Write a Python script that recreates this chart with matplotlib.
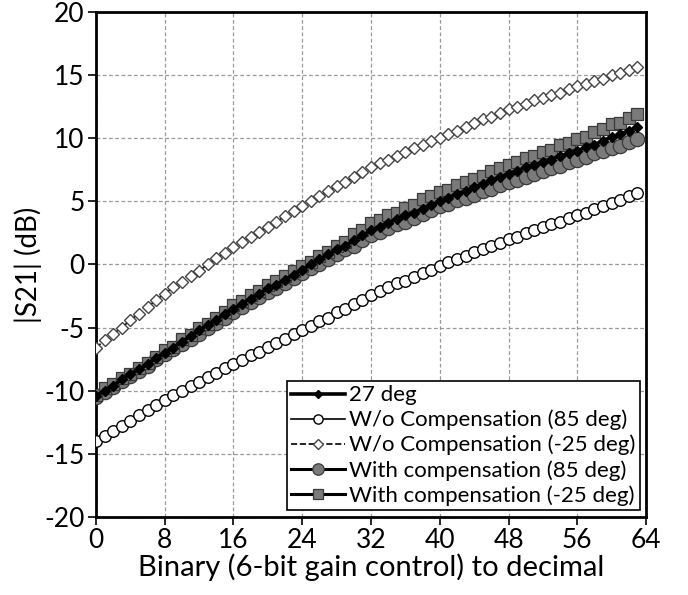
import numpy as np
import matplotlib.pyplot as plt

# gain code 0..63 (6-bit word read as decimal)
code = np.arange(64)

s21_27deg = [
    -10.4, -10.0, -9.6, -9.1, -8.7, -8.3, -7.9, -7.4, -7.0, -6.6, -6.1, -5.7, -5.2, -4.8, -4.4, -3.9,
    -3.5, -3.1, -2.7, -2.3, -1.9, -1.6, -1.2, -0.8, -0.4, 0.0, 0.4, 0.8, 1.2, 1.5, 1.9, 2.3,
    2.7, 3.0, 3.3, 3.6, 3.9, 4.1, 4.4, 4.7, 5.0, 5.3, 5.6, 5.8, 6.1, 6.4, 6.7, 6.9,
    7.2, 7.4, 7.7, 7.9, 8.1, 8.3, 8.6, 8.8, 9.0, 9.3, 9.5, 9.8, 10.1, 10.3, 10.6, 10.9,
]
s21_nocomp_85 = [
    -14.0, -13.6, -13.2, -12.8, -12.4, -11.9, -11.5, -11.1, -10.7, -10.3, -10.0, -9.6, -9.3, -8.9, -8.6, -8.2,
    -7.9, -7.6, -7.2, -6.9, -6.5, -6.2, -5.9, -5.5, -5.2, -4.9, -4.5, -4.2, -3.8, -3.5, -3.1, -2.8,
    -2.4, -2.1, -1.8, -1.5, -1.3, -1.0, -0.7, -0.4, -0.1, 0.2, 0.4, 0.7, 1.0, 1.2, 1.5, 1.7,
    2.0, 2.2, 2.5, 2.7, 3.0, 3.2, 3.4, 3.7, 3.9, 4.1, 4.4, 4.6, 4.9, 5.1, 5.4, 5.65,
]
s21_nocomp_m25 = [
    -6.6, -6.0, -5.5, -5.0, -4.4, -3.9, -3.4, -2.8, -2.3, -1.8, -1.4, -0.9, -0.5, 0.0, 0.5, 0.9,
    1.4, 1.8, 2.2, 2.6, 3.0, 3.4, 3.8, 4.2, 4.6, 5.0, 5.4, 5.8, 6.2, 6.5, 6.9, 7.3,
    7.7, 8.0, 8.3, 8.6, 8.9, 9.2, 9.5, 9.8, 10.05, 10.3, 10.6, 10.9, 11.2, 11.5, 11.7, 12.0,
    12.3, 12.5, 12.7, 13.0, 13.2, 13.4, 13.6, 13.9, 14.1, 14.3, 14.5, 14.7, 15.0, 15.2, 15.4, 15.65,
]
s21_comp_85 = [
    -10.5, -10.1, -9.7, -9.2, -8.8, -8.4, -8.0, -7.5, -7.1, -6.7, -6.3, -5.9, -5.5, -5.0, -4.6, -4.2,
    -3.8, -3.4, -3.0, -2.6, -2.2, -1.9, -1.5, -1.1, -0.7, -0.3, 0.0, 0.4, 0.8, 1.2, 1.5, 1.9,
    2.3, 2.6, 2.9, 3.2, 3.4, 3.7, 4.0, 4.3, 4.6, 4.8, 5.1, 5.3, 5.5, 5.8, 6.0, 6.3,
    6.5, 6.7, 6.9, 7.2, 7.4, 7.6, 7.8, 8.1, 8.3, 8.5, 8.8, 9.0, 9.2, 9.4, 9.7, 9.9,
]
s21_comp_m25 = [
    -10.3, -9.8, -9.5, -9.0, -8.7, -8.2, -7.8, -7.3, -6.8, -6.5, -5.9, -5.6, -5.0, -4.7, -4.2, -3.8,
    -3.2, -2.9, -2.4, -2.1, -1.6, -1.3, -0.9, -0.5, -0.1, 0.2, 0.7, 1.0, 1.5, 1.8, 2.4, 2.7,
    3.3, 3.5, 3.9, 4.1, 4.5, 4.7, 5.2, 5.4, 5.7, 5.9, 6.3, 6.5, 6.8, 7.0, 7.4, 7.6,
    7.9, 8.1, 8.4, 8.6, 8.9, 9.1, 9.5, 9.6, 9.9, 10.1, 10.5, 10.7, 11.1, 11.2, 11.6, 11.9,
]

plt.rcParams['font.family'] = ['Lato', 'DejaVu Sans']
plt.rcParams['axes.unicode_minus'] = False

fig = plt.figure(figsize=(6.88, 5.95), dpi=100)
ax = fig.add_axes([0.1395, 0.131, 0.7995, 0.849])

GRAY = '#7a7a7a'

ax.plot(code, s21_nocomp_85, '-', color='black', lw=1.2, marker='o', ms=8.3,
        mfc='white', mec='black', mew=1.0, zorder=3, label='W/o Compensation (85 deg)')
ax.plot(code, s21_nocomp_m25, '--', color='black', lw=1.2, marker='D', ms=6.2,
        mfc='white', mec='#444444', mew=1.0, zorder=3, label='W/o Compensation (-25 deg)')
ax.plot(code, s21_comp_85, '-', color='black', lw=2.2, marker='o', ms=10.3,
        mfc=GRAY, mec='#3a3a3a', mew=0.9, zorder=4, label='With compensation (85 deg)')
ax.plot(code, s21_comp_m25, '-', color='black', lw=2.2, marker='s', ms=8.2,
        mfc=GRAY, mec='#3a3a3a', mew=0.9, zorder=5, label='With compensation (-25 deg)')
ax.plot(code, s21_27deg, '-', color='black', lw=2.6, marker='D', ms=5.0,
        mfc='black', mec='black', zorder=6, label='27 deg')

ax.set_xlim(0, 64)
ax.set_ylim(-20, 20)
ax.set_xticks(np.arange(0, 65, 8))
ax.set_yticks(np.arange(-20, 21, 5))
ax.tick_params(labelsize=19, direction='out', length=6, width=1.2, pad=2)
ax.grid(True, color='#999999', linestyle='--', linewidth=0.9, dashes=(3, 2))
ax.set_axisbelow(True)
for sp in ax.spines.values():
    sp.set_linewidth(2.0)

ax.set_xlabel('Binary (6-bit gain control) to decimal', fontsize=21, labelpad=0)
ax.set_ylabel('|S21| (dB)', fontsize=20, labelpad=2)

# legend order: 27 deg first
handles, labels = ax.get_legend_handles_labels()
order = [4, 0, 1, 2, 3]
leg = ax.legend([handles[i] for i in order], [labels[i] for i in order],
                loc='lower right', bbox_to_anchor=(0.989, 0.014), fontsize=16,
                frameon=True, fancybox=False, framealpha=1, edgecolor='black',
                borderpad=0.2, labelspacing=0.2, handlelength=2.4, handletextpad=0.2,
                borderaxespad=0.0, markerscale=0.8)
leg.get_frame().set_linewidth(1.2)

fig.savefig('out.png', dpi=100)
